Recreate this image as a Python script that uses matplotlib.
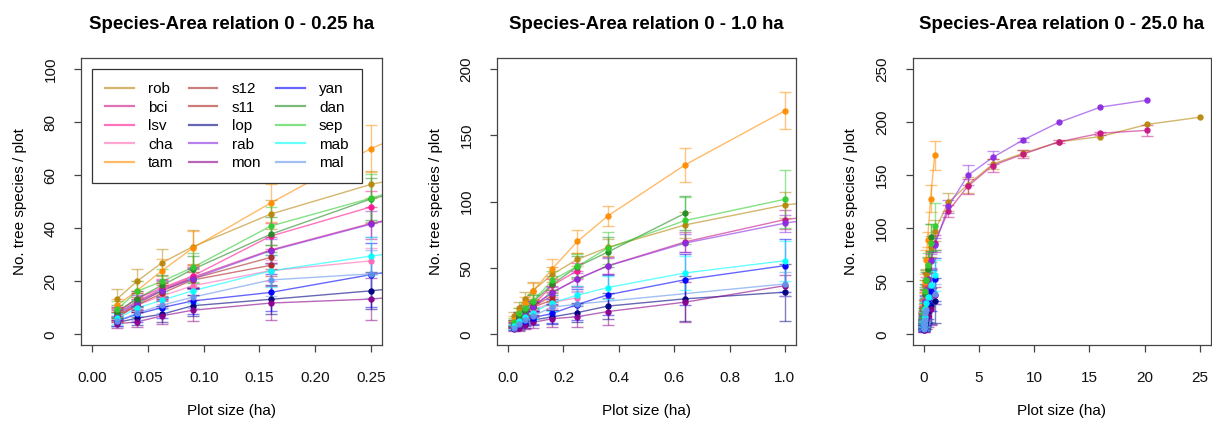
import numpy as np
import matplotlib
matplotlib.use("Agg")
import matplotlib.pyplot as plt
from matplotlib.lines import Line2D

plt.rcParams['font.family'] = ['Liberation Sans', 'DejaVu Sans']

nan = np.nan
# plot sizes (ha)
sizes = [0.0225, 0.04, 0.0625, 0.09, 0.16, 0.25, 0.36, 0.64, 1.0,
         2.25, 4.0, 6.25, 9.0, 12.25, 16.0, 20.25, 25.0]

names = ["rob", "bci", "lsv", "cha", "tam", "s12", "s11", "lop", "rab", "mon",
         "yan", "dan", "sep", "mab", "mal"]
colors = ["#B8860B", "#C71585", "#FF1493", "#FF69B4", "#FF8C00", "#A52A2A", "#B22222",
          "#000080", "#8A2BE2", "#8B008B", "#0000FF", "#228B22", "#32CD32", "#00FFFF", "#6495ED"]

# mean number of species per plot size
rob_mean = [13.5, 20.0, 27.0, 33.0, 45.3, 56.5, 65.5, 82.5, 97.5, 124.5, 141.0, 160.3, 170.6, 181.3, 186.3, 197.8, 204.5]
bci_mean = [8.0, 12.5, 17.0, 21.5, 31.8, 41.8, 51.7, 69.7, 86.5, 116.3, 139.5, 159.0, 169.7, 181.3, 189.4, 192.2]
lsv_mean = [8.5, 13.5, 17.5, 22.0, 37.0, 48.0]
cha_mean = [6.5, 11.0, 14.5, 18.3, 24.0, 27.7]
tam_mean = [11.0, 16.5, 24.0, 32.5, 49.5, 70.0, 89.2, 127.8, 168.5]
s12_mean = [7.0, 11.5, 16.5, 21.0, 29.0]
s11_mean = [6.5, 11.0, 15.5, 20.5, 26.0]
lop_mean = [4.5, 6.1, 7.6, 10.8, 13.2, 16.4, 21.3, 26.8, 31.8]
rab_mean = [7.5, 12.0, 16.5, 21.0, 31.5, 41.5, 51.5, 68.8, 83.8, 120.6, 149.7, 166.6, 183.1, 199.7, 214.0, 220.6]
mon_mean = [4.0, 4.7, 7.0, 9.1, 11.8, 13.3, 17.2, 24.3, 36.7]
yan_mean = [5.0, 7.6, 10.1, 12.6, 15.8, 22.5, 29.8, 41.2, 51.8]
dan_mean = [8.5, 13.5, 18.5, 24.5, 37.7, 51.0, 62.0, 91.3]
sep_mean = [9.5, 16.2, 20.0, 25.2, 40.8, 51.3, 65.0, 85.8, 101.8]
mab_mean = [6.0, 9.9, 12.9, 16.4, 23.9, 29.5, 35.3, 46.3, 55.5]
mal_mean = [5.0, 8.0, 11.0, 14.0, 20.5, 22.8, nan, nan, 38.0]

# standard deviations
rob_sd = [3.5, 4.5, 5.0, 6.5, 5.5, 5.0, 6.5, 10.0, 10.0, 8.7, 7.5, 4.5, 3.0, nan, nan, nan, nan]
bci_sd = [2.5, 3.0, 3.5, 4.0, 5.0, 6.0, 6.5, 7.5, 7.0, 6.0, 7.0, 6.0, 4.0, 1.5, 1.5, 5.3]
lsv_sd = [2.0, 3.0, 3.5, 4.0, 5.0, 6.0]
cha_sd = [2.0, 2.5, 3.0, 3.5, 4.0, 5.0]
tam_sd = [2.5, 3.5, 4.5, 6.5, 7.0, 9.0, 7.2, 12.7, 14.0]
s12_sd = [2.0, 2.5, 3.0, 3.5, 4.5]
s11_sd = [2.0, 2.5, 3.0, 3.0, 4.0]
lop_sd = [1.5, 2.5, 3.0, 4.0, 5.5, 7.0, 10.0, 17.0, 21.5]
rab_sd = [2.0, 3.0, 3.5, 4.0, 4.5, 5.0, 6.0, 7.0, 6.5, 6.0, 9.4, 6.2, 2.0, nan, nan, nan]
mon_sd = [1.5, 2.0, 3.0, 4.0, 6.5, 8.0, 10.0, 15.0, 8.0]
yan_sd = [2.0, 3.0, 4.0, 5.0, 7.0, 12.0, 15.0, 19.0, 20.0]
dan_sd = [2.5, 3.0, 4.0, 5.0, 6.5, 8.0, 11.0, 13.0]
sep_sd = [3.0, 4.0, 4.5, 5.5, 7.0, 9.0, 12.0, 18.0, 22.0]
mab_sd = [2.0, 3.0, 3.5, 4.5, 6.0, 7.0, 9.0, 13.0, 15.0]
mal_sd = [2.0, 2.5, 3.0, 4.0, 6.0, 9.0, nan, nan, 9.0]

means = [rob_mean, bci_mean, lsv_mean, cha_mean, tam_mean, s12_mean, s11_mean, lop_mean,
         rab_mean, mon_mean, yan_mean, dan_mean, sep_mean, mab_mean, mal_mean]
sds = [rob_sd, bci_sd, lsv_sd, cha_sd, tam_sd, s12_sd, s11_sd, lop_sd,
       rab_sd, mon_sd, yan_sd, dan_sd, sep_sd, mab_sd, mal_sd]

titles = ["Species-Area relation 0 - 0.25 ha", "Species-Area relation 0 - 1.0 ha",
          "Species-Area relation 0 - 25.0 ha"]
xlims = [(-0.01, 0.26), (-0.04, 1.04), (-1.0, 26.0)]
ylims = [(-4, 104), (-8, 208), (-10, 260)]
xticks = [[0.00, 0.05, 0.10, 0.15, 0.20, 0.25], [0.0, 0.2, 0.4, 0.6, 0.8, 1.0], [0, 5, 10, 15, 20, 25]]
xticklabels = [["0.00", "0.05", "0.10", "0.15", "0.20", "0.25"],
               ["0.0", "0.2", "0.4", "0.6", "0.8", "1.0"],
               ["0", "5", "10", "15", "20", "25"]]
yticks = [[0, 20, 40, 60, 80, 100], [0, 50, 100, 150, 200], [0, 50, 100, 150, 200, 250]]

W, H = 1212, 424
fig = plt.figure(figsize=(W / 100, H / 100), dpi=100)
lefts = [81.3, 497.0, 912.5]
widths = [300.7, 299.0, 298.5]
top, bottom = 58.3, 345.0
edge = "#444444"

for k in range(3):
    ax = fig.add_axes([lefts[k] / W, (H - bottom) / H, widths[k] / W, (bottom - top) / H])
    for name, col, m, s in zip(names, colors, means, sds):
        n = len(m)
        x = np.array(sizes[:n])
        m = np.array(m, dtype=float)
        s = np.array(s, dtype=float)
        ok = ~np.isnan(m)
        ax.plot(x[ok], m[ok], color=col, alpha=0.6, lw=1.0, zorder=2, clip_on=True)
        eb = ok & ~np.isnan(s)
        ax.errorbar(x[eb], m[eb], yerr=s[eb], fmt='none', ecolor=col, alpha=0.5,
                    elinewidth=1.0, capsize=4.0, capthick=1.0, zorder=3)
        ax.plot(x[ok], m[ok], 'o', color=col, ms=4.6, mec='none', alpha=0.95, zorder=4)
    ax.set_xlim(*xlims[k])
    ax.set_ylim(*ylims[k])
    ax.set_xticks(xticks[k])
    ax.set_xticklabels(xticklabels[k])
    ax.set_yticks(yticks[k])
    ax.set_yticklabels([str(v) for v in yticks[k]], rotation=90, va='center')
    ax.tick_params(axis='both', length=5, width=0.9, color=edge, labelsize=11,
                   labelcolor="#111111")
    ax.tick_params(axis='x', pad=14)
    ax.tick_params(axis='y', pad=12)
    for sp in ax.spines.values():
        sp.set_color(edge)
        sp.set_linewidth(0.9)
    ax.set_title(titles[k], fontsize=13.4, fontweight='bold', pad=21)
    ax.set_xlabel("Plot size (ha)", fontsize=11, va='center')
    ax.xaxis.set_label_coords(0.5, -0.23)
    ax.set_ylabel("No. tree species / plot", fontsize=11, va='center')
    ax.yaxis.set_label_coords(-61.3 / widths[k], 0.5)
    if k == 0:
        handles = [Line2D([], [], color=c, lw=1.6, alpha=0.6) for c in colors]
        leg = ax.legend(handles, names, ncol=3, loc='upper left',
                        bbox_to_anchor=(0.0366, 0.9627), fontsize=11, frameon=True,
                        fancybox=False, edgecolor="#333333", framealpha=1,
                        handlelength=1.85, handletextpad=0.95, columnspacing=1.0,
                        labelspacing=0.3, borderpad=0.85, borderaxespad=0)
        leg.get_frame().set_linewidth(0.9)
        leg.set_zorder(10)

fig.savefig("out.png", dpi=100)
